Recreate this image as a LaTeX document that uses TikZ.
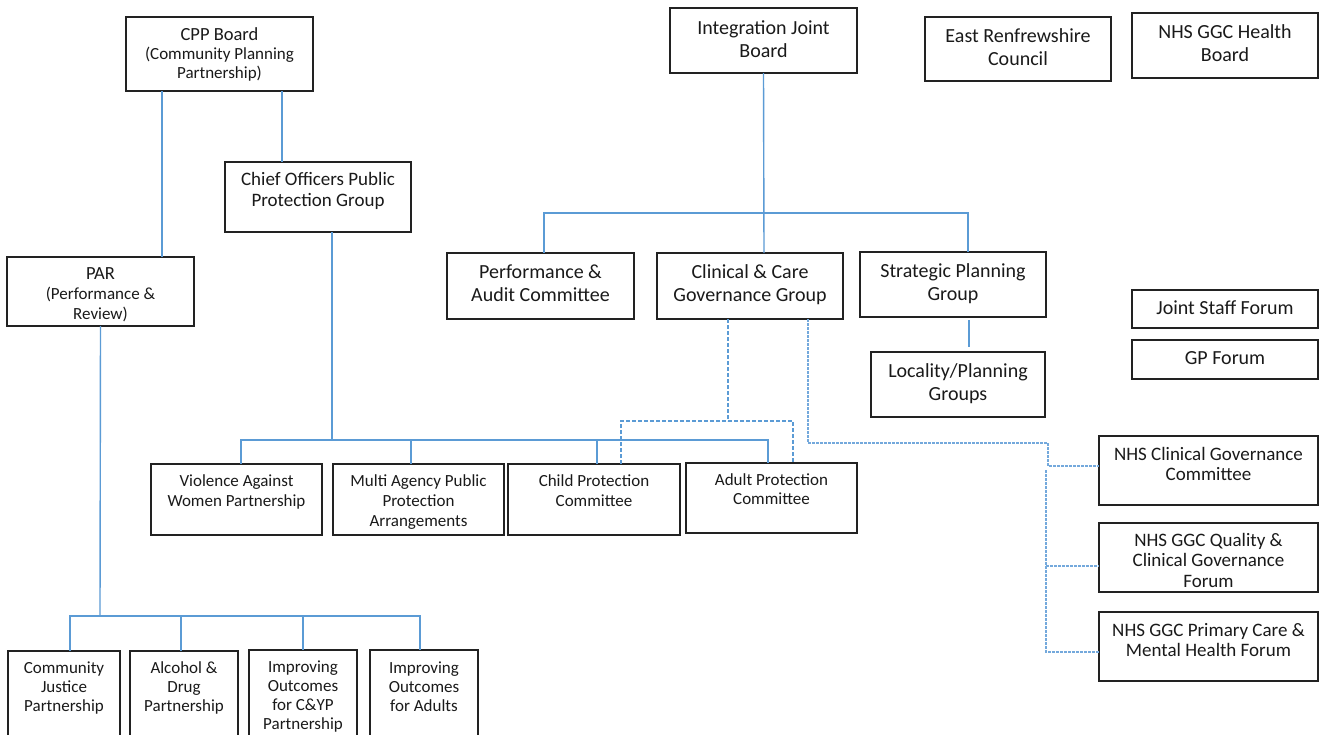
\documentclass[tikz,border=0pt]{standalone}
\usepackage{fontspec}
\setmainfont{Carlito}
\definecolor{conn}{HTML}{5B9BD5}
\definecolor{conn2}{HTML}{74A9DC}
\definecolor{boxline}{HTML}{222222}
\definecolor{txt}{HTML}{1A1A1A}
\tikzset{
  box/.style={draw=boxline, line width=1.3pt, inner sep=0pt, outer sep=0pt},
  tA/.style={font=\fontsize{20}{23}\selectfont, align=center, inner sep=0pt, text=txt, anchor=north},
  tB/.style={font=\fontsize{19}{21}\selectfont, align=center, inner sep=0pt, text=txt, anchor=north},
  tN/.style={font=\fontsize{19}{20.5}\selectfont, align=center, inner sep=0pt, text=txt, anchor=north},
  tC/.style={font=\fontsize{17}{20}\selectfont, align=center, inner sep=0pt, text=txt, anchor=north},
  tD/.style={font=\fontsize{17}{19}\selectfont, align=center, inner sep=0pt, text=txt, anchor=north},
  link/.style={draw=conn, line width=1.4pt},
  dashA/.style={draw=conn, line width=1.2pt, dash pattern=on 4pt off 2pt},
  dashB/.style={draw=conn2, line width=1.3pt, dash pattern=on 2.5pt off 1.5pt},
}
% name, x1, y1, x2, y2, text-top y, text style, text
\newcommand\bx[8]{%
  \node[box, minimum width={#4-#2}, minimum height={#5-#3}] (#1) at ({(#2+#4)/2},{(#3+#5)/2}) {};
  \node[#7] (#1t) at ({(#2+#4)/2},{#6+2}) {#8};}
\begin{document}
\begin{tikzpicture}[x=1pt,y=-1pt]
\clip (0,0) rectangle (1323,734);
\fill[white] (0,0) rectangle (1323,734);

% top left
\bx{cpp}{126}{17}{313}{91}{25}{tD}{{\fontsize{18.5}{21}\selectfont CPP Board}\\(Community Planning\\Partnership)}
\bx{chief}{225}{162}{411}{232}{170}{tB}{Chief Officers Public\\Protection Group}
\bx{par}{7}{257}{194}{326}{265.5}{tC}{{\fontsize{18.5}{21}\selectfont PAR}\\(Performance \&\\Review)}

% top right
\bx{ijb}{670}{8}{857}{73}{18.6}{tA}{Integration Joint\\Board}
\bx{erc}{925}{17}{1111}{81}{26.6}{tA}{East Renfrewshire\\Council}
\bx{hb}{1132}{13}{1318}{78}{22.6}{tA}{NHS GGC Health\\Board}
\bx{perf}{447}{253}{634}{319}{262.6}{tA}{Performance \&\\Audit Committee}
\bx{clin}{657}{253}{843}{319}{262.6}{tA}{Clinical \& Care\\Governance Group}
\bx{strat}{860}{252}{1046}{317}{261.6}{tA}{Strategic Planning\\Group}
\bx{loc}{871}{352}{1045}{417}{361.6}{tA}{Locality/Planning\\Groups}
\bx{jsf}{1132}{290}{1318}{328}{298.6}{tA}{Joint Staff Forum}
\bx{gpf}{1132}{340}{1318}{379}{349.6}{tA}{GP Forum}

% NHS boxes
\bx{ncgc}{1099}{436}{1318}{505}{445}{tN}{NHS Clinical Governance\\Committee}
\bx{qual}{1099}{523}{1318}{592}{531}{tN}{NHS GGC Quality \&\\Clinical Governance\\Forum}
\bx{prim}{1099}{612}{1318}{681}{621}{tN}{NHS GGC Primary Care \&\\Mental Health Forum}

% protection row
\bx{vaw}{151}{464}{322}{535}{472.9}{tC}{Violence Against\\Women Partnership}
\bx{mappa}{333}{464}{504}{535}{472.9}{tC}{Multi Agency Public\\Protection\\Arrangements}
\bx{child}{508}{464}{680}{535}{472.9}{tC}{Child Protection\\Committee}
\bx{adult}{686}{463}{857}{533}{471.9}{tD}{Adult Protection\\Committee}

% bottom row
\bx{cj}{8}{651}{120}{760}{659.9}{tD}{Community\\Justice\\Partnership}
\bx{adp}{130}{651}{238}{760}{659.9}{tD}{Alcohol \&\\Drug\\Partnership}
\bx{cyp}{249}{650}{357}{760}{658.9}{tD}{Improving\\Outcomes\\for C\&YP\\Partnership}
\bx{adl}{370}{650}{478}{760}{659.9}{tD}{Improving\\Outcomes\\for Adults}

% junction coordinates
\coordinate (pbus) at (332,440);
\coordinate (ibus) at (764,213);
\coordinate (rbus) at (100,616);
\coordinate (cbus) at (728,421);
\coordinate (d2) at (1048,443);
\coordinate (t1) at (1046,470);
\coordinate (t2) at (1046,566);

% solid connectors
\draw[link] ([xshift=-57.5pt]cpp.south) -- ([xshift=61.5pt]par.north);
\draw[link] ([xshift=62.5pt]cpp.south) -- ([xshift=-36pt]chief.north);
\draw[link] ([xshift=14pt]chief.south) -- (pbus);
\draw[link] ([xshift=4.5pt]vaw.north) |- (pbus) -| ([xshift=-3.5pt]adult.north);
\draw[link] ([xshift=-7.5pt]mappa.north) |- (pbus);
\draw[link] ([xshift=3pt]child.north) |- (pbus);

\draw[link] (ijb.south) -- ([xshift=14pt]clin.north);
\draw[link] ([xshift=3.5pt]perf.north) |- (ibus) -| ([xshift=15pt]strat.north);
\draw[link, shorten <=3pt, shorten >=5pt] ([xshift=16pt]strat.south) -- ([xshift=11pt]loc.north);

\draw[link] (par.south) -- (rbus);
\draw[link] ([xshift=6pt]cj.north) |- (rbus) -| ([xshift=-4pt]adl.north);
\draw[link] ([xshift=-3pt]adp.north) |- (rbus);
\draw[link] (cyp.north) |- (rbus);

% dashed connectors
\draw[dashA] ([xshift=-22pt]clin.south) -- (cbus);
\draw[dashA] ([xshift=27pt]child.north) |- (cbus) -| ([xshift=21.5pt]adult.north);

\draw[dashB] ([xshift=58pt]clin.south) |- (d2) |- ([yshift=4.5pt]ncgc.west);
\draw[dashB] (t1) |- ([yshift=-5.5pt]prim.west);
\draw[dashB] (t2) -- ([yshift=-8.5pt]qual.west);
\end{tikzpicture}
\end{document}
